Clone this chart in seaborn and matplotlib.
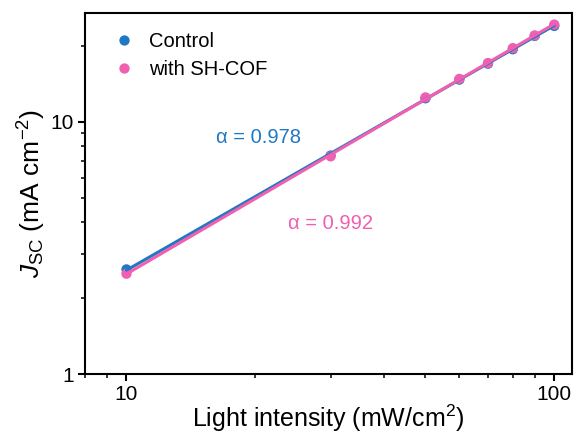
import numpy as np
import pandas as pd
import matplotlib
matplotlib.use("Agg")
import matplotlib.pyplot as plt
import seaborn as sns
from matplotlib.ticker import LogLocator, NullFormatter, FixedLocator, FixedFormatter

# ---- data ----
intensity = [10, 30, 50, 60, 70, 80, 90, 100]
jsc_control = [2.6, 7.35, 12.4, 14.7, 17.0, 19.4, 21.9, 24.0]
jsc_shcof = [2.5, 7.3, 12.5, 14.8, 17.1, 19.6, 22.0, 24.3]
series_names = ["Control", "with SH-COF"]
alpha_labels = ["α = 0.978", "α = 0.992"]

blue = "#1f78c4"
pink = "#f05fb0"

sns.set_theme(style="white")
plt.rcParams["font.family"] = ["Liberation Sans", "DejaVu Sans"]
plt.rcParams["mathtext.fontset"] = "custom"
plt.rcParams["mathtext.rm"] = "Liberation Sans"
plt.rcParams["mathtext.it"] = "Liberation Sans:italic"
plt.rcParams["text.color"] = "black"
plt.rcParams["axes.labelcolor"] = "black"

df = pd.DataFrame({
    "x": intensity * 2,
    "y": jsc_control + jsc_shcof,
    "s": [series_names[0]] * len(intensity) + [series_names[1]] * len(intensity),
})

fig = plt.figure(figsize=(5.76, 4.34), dpi=100)
ax = fig.add_axes([0.1476, 0.138, 0.8454, 0.832])

sns.scatterplot(data=df, x="x", y="y", hue="s", palette=[blue, pink],
                s=55, edgecolor="none", ax=ax, zorder=3)

# linear fits in log-log space
for ys, c in [(jsc_control, blue), (jsc_shcof, pink)]:
    lx = np.log10(intensity)
    p = np.polyfit(lx, np.log10(ys), 1)
    xf = np.array([intensity[0], intensity[-1]])
    yf = 10 ** np.polyval(p, np.log10(xf))
    sns.lineplot(x=xf, y=yf, color=c, lw=2.2, ax=ax, zorder=4)

ax.set_xscale("log")
ax.set_yscale("log")
ax.set_xlim(8, 110)
ax.set_ylim(1, 27)

ax.xaxis.set_major_locator(FixedLocator([10, 100]))
ax.xaxis.set_major_formatter(FixedFormatter(["10", "100"]))
ax.xaxis.set_minor_locator(LogLocator(base=10, subs=np.arange(2, 10)))
ax.xaxis.set_minor_formatter(NullFormatter())
ax.yaxis.set_major_locator(FixedLocator([1, 10]))
ax.yaxis.set_major_formatter(FixedFormatter(["1", "10"]))
ax.yaxis.set_minor_locator(LogLocator(base=10, subs=np.arange(2, 10)))
ax.yaxis.set_minor_formatter(NullFormatter())

ax.tick_params(which="major", direction="out", length=5, width=1.5,
               labelsize=15, pad=3, bottom=True, left=True, top=False, right=False, colors="black")
ax.tick_params(which="minor", direction="out", length=3, width=1.3,
               bottom=True, left=True, top=False, right=False)
for sp in ax.spines.values():
    sp.set_linewidth(1.5)
    sp.set_color("black")

ax.set_xlabel("Light intensity (mW/cm$^{2}$)", fontsize=18, labelpad=-1)
ax.set_ylabel("$J_{\\rm SC}$ (mA cm$^{-2}$)", fontsize=19, labelpad=2)

ax.text(20.3, 8.63, alpha_labels[0], color=blue, fontsize=14.5, ha="center", va="center")
ax.text(30.0, 3.96, alpha_labels[1], color=pink, fontsize=14.5, ha="center", va="center")

leg = ax.legend(loc="upper left", frameon=False, fontsize=14.5, handletextpad=0.25,
                borderaxespad=0.55, labelspacing=0.45, markerscale=1.0)

fig.savefig("out.png", dpi=100)
